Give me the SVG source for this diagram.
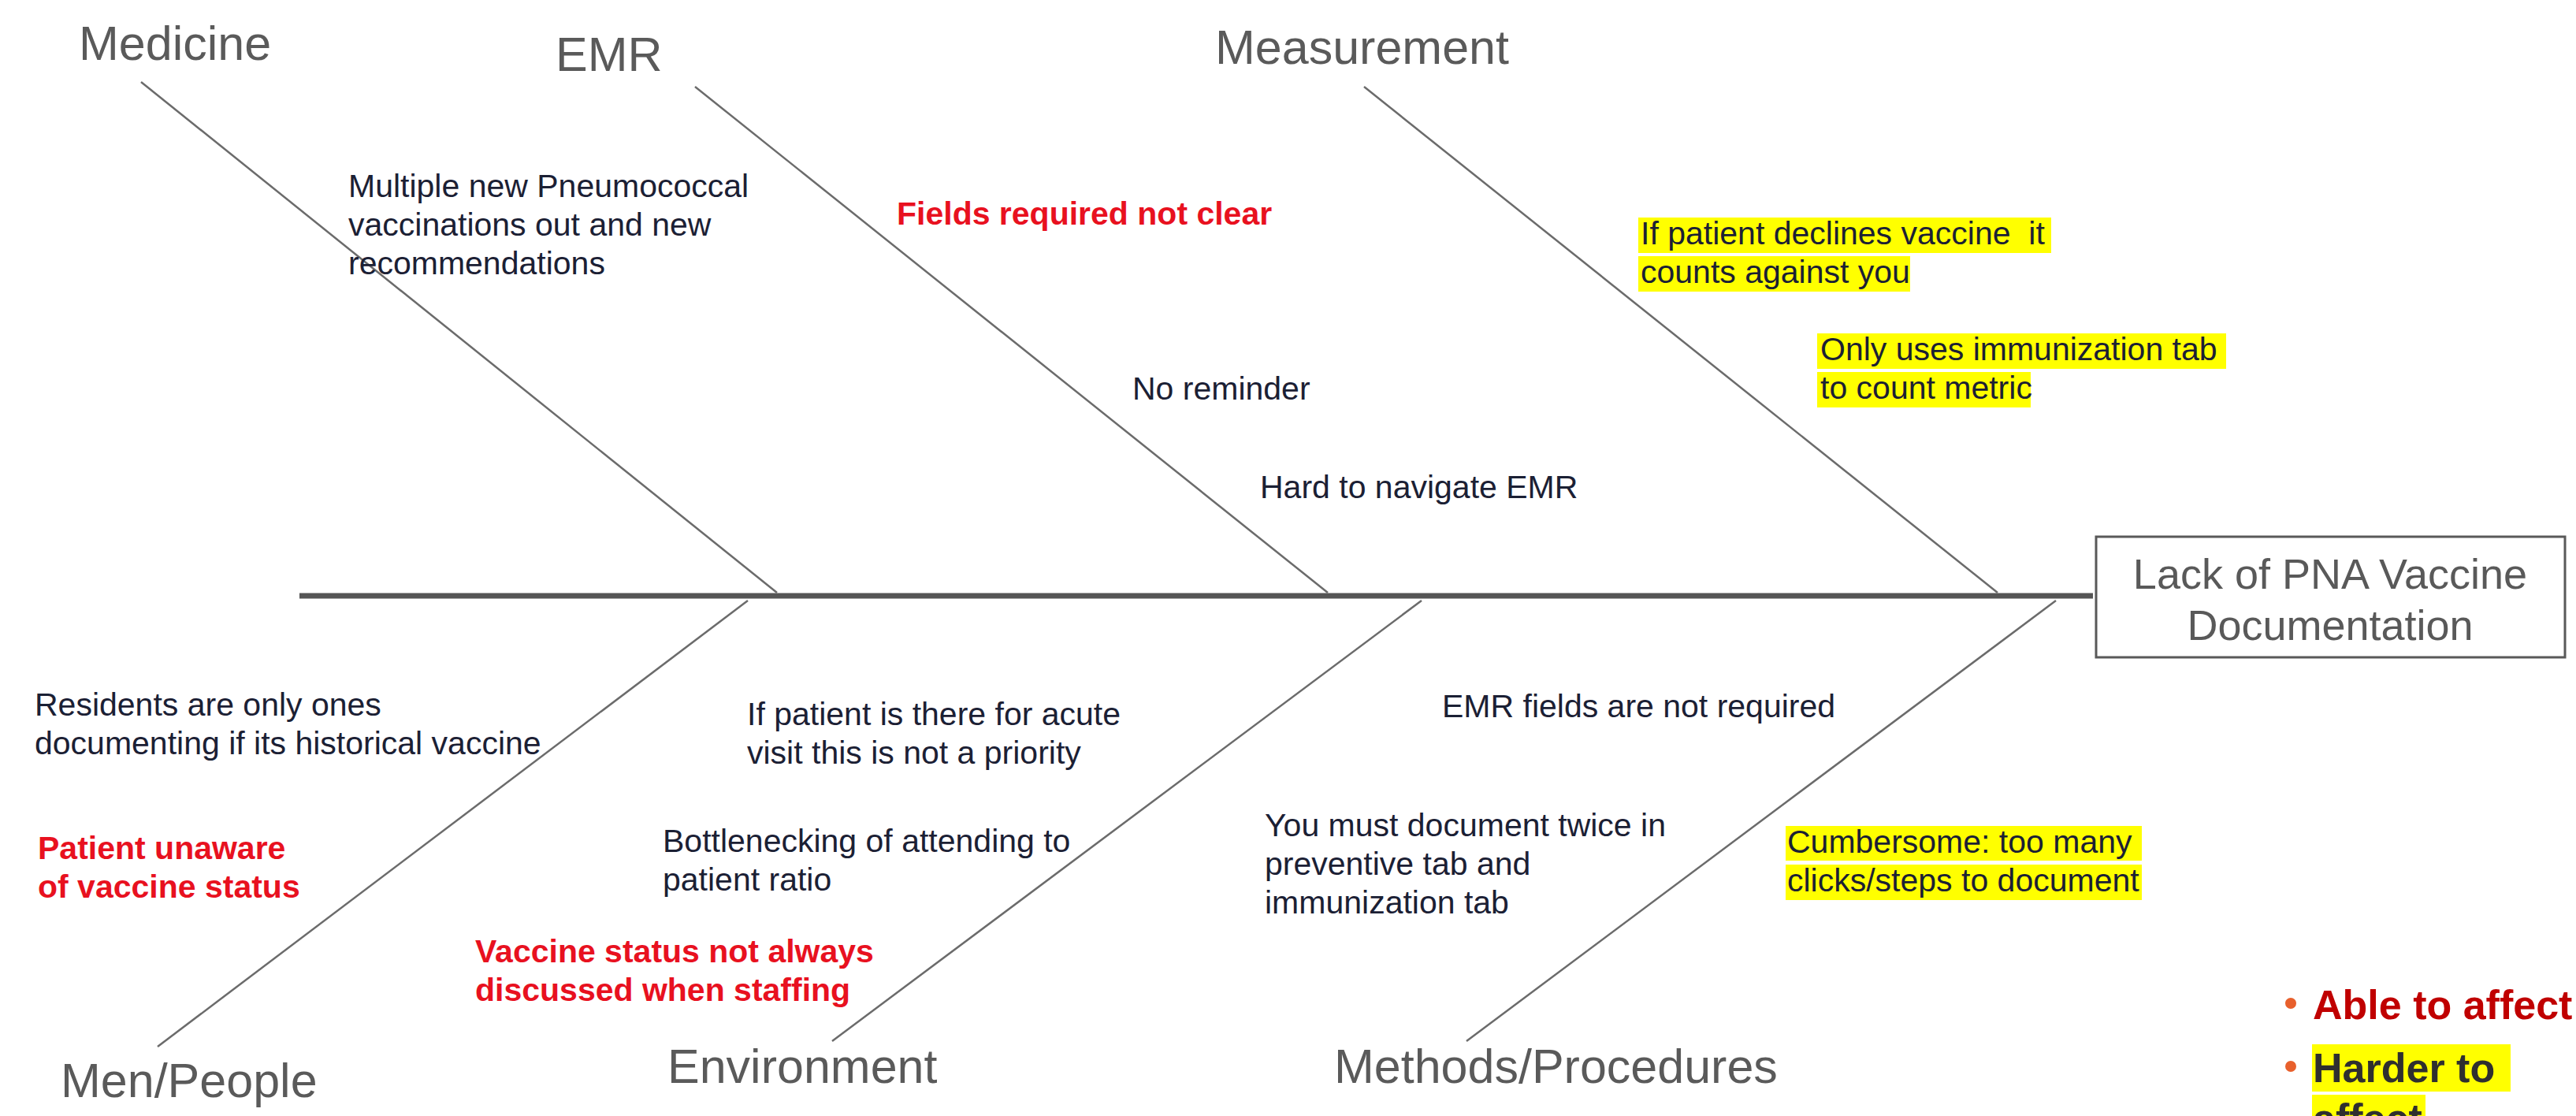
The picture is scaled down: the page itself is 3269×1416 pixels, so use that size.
<svg xmlns="http://www.w3.org/2000/svg" width="3269" height="1416" viewBox="0 0 3269 1416">
  <style>
    text { font-family: "Liberation Sans", Arial, sans-serif; }
    .cat { font-size: 61px; fill: #5a5a5a; }
    .cause { font-size: 41px; fill: #1b2034; }
    .hot { font-size: 41px; fill: #e8111f; font-weight: bold; }
    .hl { fill: #ffff00; }
    .spine { stroke: #555555; stroke-width: 7; fill: none; }
    .bone { stroke: #6b6b6b; stroke-width: 2.5; fill: none; }
    .effect-box { fill: #ffffff; stroke: #595959; stroke-width: 3; }
    .effect-text { font-size: 54px; fill: #595959; text-anchor: middle; }
    .legend-red { font-size: 52px; font-weight: bold; fill: #c00000; }
    .legend-dark { font-size: 52px; font-weight: bold; fill: #2f2f2f; }
    .dot { fill: #e8602c; }
  </style>

  <rect width="3269" height="1416" fill="#ffffff"/>

  <!-- spine and category bones -->
  <g id="connectors">
    <line class="spine" x1="380" y1="756" x2="2656" y2="756"/>
    <line class="bone" x1="179" y1="104" x2="986" y2="752"/>
    <line class="bone" x1="882" y1="110" x2="1685" y2="752"/>
    <line class="bone" x1="1731" y1="110" x2="2535" y2="752"/>
    <line class="bone" x1="200" y1="1328" x2="949" y2="762"/>
    <line class="bone" x1="1056" y1="1321" x2="1804" y2="762"/>
    <line class="bone" x1="1861" y1="1321" x2="2609" y2="762"/>
  </g>

  <!-- effect (fish head) -->
  <g id="effect">
    <rect class="effect-box" x="2660" y="681" width="595" height="153"/>
    <text class="effect-text" x="2957" y="747">Lack of PNA Vaccine</text>
    <text class="effect-text" x="2957" y="812">Documentation</text>
  </g>

  <!-- category labels -->
  <g id="cat-medicine"><text class="cat" x="100" y="76">Medicine</text></g>
  <g id="cat-emr"><text class="cat" x="705" y="90">EMR</text></g>
  <g id="cat-measurement"><text class="cat" x="1542" y="81">Measurement</text></g>
  <g id="cat-people"><text class="cat" x="77" y="1392">Men/People</text></g>
  <g id="cat-environment"><text class="cat" x="847" y="1374">Environment</text></g>
  <g id="cat-methods"><text class="cat" x="1693" y="1374">Methods/Procedures</text></g>

  <!-- Medicine causes -->
  <g id="cause-pneumococcal">
    <text class="cause" x="442" y="250">Multiple new Pneumococcal</text>
    <text class="cause" x="442" y="299">vaccinations out and new</text>
    <text class="cause" x="442" y="348">recommendations</text>
  </g>

  <!-- EMR causes -->
  <g id="cause-fields-unclear">
    <text class="hot" x="1138" y="285">Fields required not clear</text>
  </g>
  <g id="cause-no-reminder">
    <text class="cause" x="1437" y="507">No reminder</text>
  </g>
  <g id="cause-hard-navigate">
    <text class="cause" x="1599" y="632">Hard to navigate EMR</text>
  </g>

  <!-- Measurement causes -->
  <g id="cause-declines">
    <rect class="hl" x="2079" y="276" width="524" height="45"/>
    <rect class="hl" x="2079" y="325" width="345" height="45"/>
    <text class="cause" x="2082" y="310" xml:space="preserve">If patient declines vaccine  it</text>
    <text class="cause" x="2082" y="359">counts against you</text>
  </g>
  <g id="cause-immunization-tab">
    <rect class="hl" x="2306" y="423" width="519" height="45"/>
    <rect class="hl" x="2306" y="472" width="271" height="45"/>
    <text class="cause" x="2310" y="457">Only uses immunization tab</text>
    <text class="cause" x="2310" y="506">to count metric</text>
  </g>

  <!-- Men/People causes -->
  <g id="cause-residents">
    <text class="cause" x="44" y="908">Residents are only ones</text>
    <text class="cause" x="44" y="957">documenting if its historical vaccine</text>
  </g>
  <g id="cause-unaware">
    <text class="hot" x="48" y="1090">Patient unaware</text>
    <text class="hot" x="48" y="1139">of vaccine status</text>
  </g>

  <!-- Environment causes -->
  <g id="cause-acute-visit">
    <text class="cause" x="948" y="920">If patient is there for acute</text>
    <text class="cause" x="948" y="969">visit this is not a priority</text>
  </g>
  <g id="cause-bottleneck">
    <text class="cause" x="841" y="1081">Bottlenecking of attending to</text>
    <text class="cause" x="841" y="1130">patient ratio</text>
  </g>
  <g id="cause-staffing">
    <text class="hot" x="603" y="1221">Vaccine status not always</text>
    <text class="hot" x="603" y="1270">discussed when staffing</text>
  </g>

  <!-- Methods/Procedures causes -->
  <g id="cause-not-required">
    <text class="cause" x="1830" y="910">EMR fields are not required</text>
  </g>
  <g id="cause-twice">
    <text class="cause" x="1605" y="1061">You must document twice in</text>
    <text class="cause" x="1605" y="1110">preventive tab and</text>
    <text class="cause" x="1605" y="1159">immunization tab</text>
  </g>
  <g id="cause-cumbersome">
    <rect class="hl" x="2266" y="1048" width="452" height="44"/>
    <rect class="hl" x="2266" y="1097" width="452" height="45"/>
    <text class="cause" x="2268" y="1082">Cumbersome: too many</text>
    <text class="cause" x="2268" y="1131">clicks/steps to document</text>
  </g>

  <!-- key -->
  <g id="legend">
    <circle class="dot" cx="2907" cy="1273" r="7"/>
    <text class="legend-red" x="2935" y="1293">Able to affect</text>
    <circle class="dot" cx="2907" cy="1353" r="7"/>
    <rect class="hl" x="2934" y="1325" width="252" height="60"/>
    <rect class="hl" x="2934" y="1389" width="144" height="40"/>
    <text class="legend-dark" x="2935" y="1373">Harder to</text>
    <text class="legend-dark" x="2935" y="1437">affect</text>
  </g>
</svg>
